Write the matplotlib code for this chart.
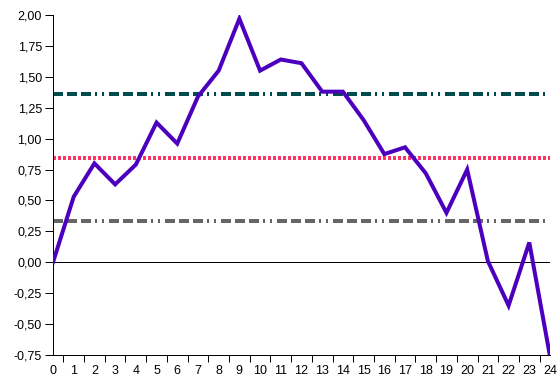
import matplotlib
matplotlib.use('Agg')
import matplotlib.pyplot as plt
from matplotlib.ticker import FuncFormatter, MultipleLocator

plt.rcParams['font.family'] = ['Liberation Sans', 'DejaVu Sans']
plt.rcParams['lines.scale_dashes'] = False

# series values (x = 0..24)
x_values = list(range(25))
y_values = [0.00, 0.53, 0.80, 0.63, 0.79, 1.13, 0.96, 1.34, 1.55, 1.97,
            1.55, 1.64, 1.61, 1.38, 1.38, 1.15, 0.875, 0.93, 0.72, 0.40,
            0.75, 0.01, -0.35, 0.16, -0.76]

# horizontal reference levels
upper_level = 1.36
mean_level = 0.845
lower_level = 0.33

COLOR_SERIES = '#4C00BE'
COLOR_UPPER = '#004C4C'
COLOR_MEAN = '#FF3366'
COLOR_LOWER = '#666666'

PX = 0.72  # pixels -> points at 100 dpi
dash_dot_dot = (0, (10 * PX, 4 * PX, 10 * PX, 4 * PX, 10 * PX, 4 * PX,
                    2 * PX, 5 * PX, 2 * PX, 5 * PX))
dotted = (0, (3 * PX, 2 * PX))

fig = plt.figure(figsize=(5.6, 3.88), dpi=100)
ax = fig.add_axes([53 / 560, 33 / 388, 497 / 560, 340 / 388])

ax.axhline(upper_level, color=COLOR_UPPER, lw=4 * PX, linestyle=dash_dot_dot, zorder=2)
ax.axhline(mean_level, color=COLOR_MEAN, lw=4 * PX, linestyle=dotted, zorder=2)
ax.axhline(lower_level, color=COLOR_LOWER, lw=4 * PX, linestyle=dash_dot_dot, zorder=2)
ax.axhline(0, color='black', lw=1 * PX, zorder=1)

ax.plot(x_values, y_values, color=COLOR_SERIES, lw=4 * PX, zorder=3,
        solid_joinstyle='miter', clip_on=True)

ax.set_xlim(0, 24)
ax.set_ylim(-0.75, 2.0)

ax.spines['top'].set_visible(False)
ax.spines['right'].set_visible(False)
ax.spines['left'].set_linewidth(1 * PX)
ax.spines['bottom'].set_linewidth(1 * PX)

ax.set_xticks(x_values)
ax.set_xticklabels([str(v) for v in x_values])
ax.xaxis.set_minor_locator(MultipleLocator(1, offset=0.5))
ax.tick_params(axis='x', which='major', length=0, pad=7, labelsize=9)
ax.tick_params(axis='x', which='minor', length=5, width=1 * PX, direction='out')

ax.yaxis.set_major_locator(MultipleLocator(0.25))
ax.yaxis.set_major_formatter(FuncFormatter(lambda v, p: ('%.2f' % v).replace('.', ',')))
ax.tick_params(axis='y', length=6, width=1 * PX, direction='out', labelsize=9, pad=2)

fig.savefig('out.png', dpi=100)
